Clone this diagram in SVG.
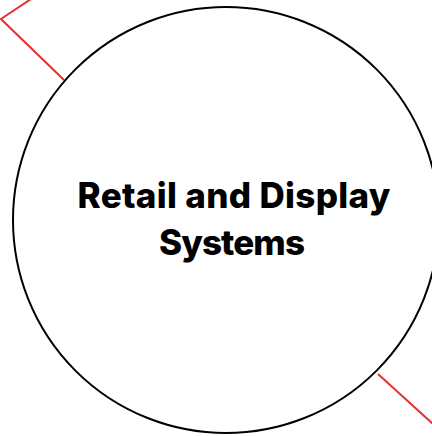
<svg xmlns="http://www.w3.org/2000/svg" width="432" height="436" viewBox="0 0 432 436">
<style>
.edge{fill:none;stroke:#e8302a;stroke-width:2}
.node{fill:#fff;stroke:#000;stroke-width:2}
.label{font-family:Inter,"Liberation Sans",sans-serif;font-weight:800;font-size:35px;fill:#000;text-anchor:middle}
</style>
<rect width="432" height="436" fill="#fff"/>
<g id="connectors">
<polyline class="edge" points="31,-1 1,19 64,80"/>
<line class="edge" x1="378" y1="374" x2="433" y2="424"/>
</g>
<g id="node-retail">
<circle class="node" cx="226" cy="220" r="213"/>
<text class="label" x="234" y="208" textLength="313" lengthAdjust="spacing">Retail and Display</text>
<text class="label" x="232" y="255" textLength="146" lengthAdjust="spacing">Systems</text>
</g>
</svg>
